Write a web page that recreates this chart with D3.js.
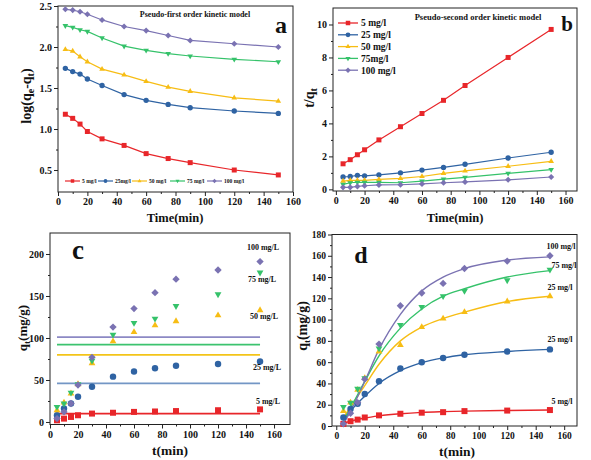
<!DOCTYPE html>
<html><head><meta charset="utf-8">
<script src="https://cdn.jsdelivr.net/npm/d3@7"></script>
<style>
body{margin:0;background:#fff}
svg{display:block}
text{font-family:"Liberation Serif","Times New Roman",serif;font-weight:bold;fill:#111}
</style>
</head><body>
<svg id="chart" width="591" height="460"></svg>
<script>
// ---------- DATA ----------
const times = [5, 10, 15, 20, 30, 45, 60, 75, 90, 120, 150];
const xTicks = [0, 20, 40, 60, 80, 100, 120, 140, 160];

// panel a: log(qe-qt)
const aLog5   = [1.18, 1.13, 1.06, 0.97, 0.88, 0.80, 0.70, 0.64, 0.59, 0.50, 0.44];
const aLog25  = [1.74, 1.70, 1.67, 1.61, 1.53, 1.42, 1.35, 1.30, 1.26, 1.22, 1.19];
const aLog50  = [1.97, 1.95, 1.88, 1.82, 1.73, 1.66, 1.58, 1.51, 1.46, 1.38, 1.34];
const aLog75  = [2.26, 2.24, 2.21, 2.19, 2.11, 2.01, 1.96, 1.92, 1.89, 1.85, 1.82];
const aLog100 = [2.46, 2.45, 2.43, 2.40, 2.33, 2.25, 2.20, 2.14, 2.08, 2.04, 2.00];
const aLabels = ["5 mg/l", "25mg/l", "50 mg/l", "75 mg/l", "100 mg/l"];
const aYTicks = [0.5, 1.0, 1.5, 2.0, 2.5];

// panel b: t/qt
const bT5   = [1.55, 1.80, 2.10, 2.40, 3.00, 3.80, 4.60, 5.40, 6.30, 8.00, 9.70];
const bT25  = [0.75, 0.78, 0.85, 0.82, 0.88, 1.00, 1.17, 1.33, 1.52, 1.90, 2.25];
const bT50  = [0.50, 0.55, 0.55, 0.55, 0.60, 0.66, 0.78, 0.97, 1.12, 1.40, 1.70];
const bT75  = [0.30, 0.40, 0.43, 0.42, 0.42, 0.40, 0.50, 0.62, 0.73, 0.97, 1.20];
const bT100 = [0.12, 0.12, 0.18, 0.22, 0.27, 0.28, 0.33, 0.40, 0.45, 0.58, 0.75];
const bLabels = ["5 mg/l", "25 mg/l", "50 mg/l", "75mg/l", "100 mg/l"];
const bYTicks = [0, 2, 4, 6, 8, 10];

// panel c: qt points + qe lines
const cQ5   = [2, 4, 6, 8, 10, 11, 12, 12.5, 13, 14, 15];
const cQ25  = [8, 16, 22, 30, 42, 54, 60, 64, 67, 69, 72];
const cQ50  = [14, 23, 34, 45, 70, 96, 107, 115, 120, 127, 133];
const cQ75  = [18, 22, 35, 45, 73, 104, 118, 123, 138, 152, 178];
const cQ100 = [4, 12, 22, 44, 77, 113, 135, 154, 170, 181, 191];
const cQe   = [10, 46, 80, 92, 101];
const cLabels = ["5 mg/L", "25 mg/L", "50 mg/L", "75 mg/L", "100 mg/L"];
const cYTicks = [0, 50, 100, 150, 200];

// panel d: qt points + fitted curves
const dQ5   = [2, 4.5, 6, 8, 10, 11.5, 12.5, 13, 14, 14.5, 15];
const dQ25  = [8, 16, 21, 30, 42, 54, 60, 64, 67, 70, 72];
const dQ50  = [14, 22, 34, 45, 70, 76, 93, 101, 107, 117, 122];
const dQ75  = [18, 22, 35, 45, 73, 95, 112, 122, 127, 137, 147];
const dQ100 = [2, 12, 22, 44, 77, 113, 125, 134, 148, 155, 160];
const fitTimes = [5, 10, 20, 30, 45, 60, 75, 90, 120, 150];
const dFit5   = [2.5, 4.5, 7.5, 9.5, 11.5, 12.8, 13.5, 14, 14.6, 15];
const dFit25  = [5, 14, 28, 40, 52, 59.5, 64, 67, 70, 72];
const dFit50  = [8, 18, 38, 58, 80, 93, 101, 107, 117, 122];
const dFit75  = [5, 17, 42, 66, 92, 110, 122, 129, 140, 146];
const dFit100 = [2, 14, 42, 72, 105, 127, 140, 148, 156, 159];
const dLabels = ["5 mg/l", "25 mg/l", "25 mg/l", "75 mg/l", "100 mg/l"];
const dYTicks = [0, 20, 40, 60, 80, 100, 120, 140, 160, 180];

// ---------- STYLE ----------
const colors = ["#e8262a", "#2f63a3", "#f7bd14", "#35c26a", "#7a72b2"];
const lineColorsC = ["#e8262a", "#7396c5", "#f3c418", "#3cc36f", "#8c89c4"];
const shapes = ["square", "circle", "tri", "trid", "diamond"];

const svg = d3.select("#chart");

function marker(g, shape, x, y, s, color) {
  const sym = {
    square: d3.symbolSquare, circle: d3.symbolCircle, tri: d3.symbolTriangle,
    trid: d3.symbolTriangle, diamond: d3.symbolSquare
  }[shape];
  let area = s * s;
  if (shape === "circle") area = Math.PI * (s / 2) * (s / 2) * 1.15;
  if (shape === "tri" || shape === "trid") area = s * s * 0.55;
  if (shape === "diamond") area = s * s * 0.75;
  const rot = shape === "trid" ? 180 : shape === "diamond" ? 45 : 0;
  g.append("path").attr("d", d3.symbol().type(sym).size(area)())
    .attr("transform", `translate(${x},${y}) rotate(${rot})`)
    .attr("fill", color);
}

function makePanel(cfg) {
  const g = svg.append("g");
  const x = d3.scaleLinear().domain(cfg.xDomain).range(cfg.xRange);
  const y = d3.scaleLinear().domain(cfg.yDomain).range(cfg.yRange);
  const [x0, x1] = cfg.xRange, [y0, y1] = cfg.yRange;
  g.append("rect").attr("x", x0).attr("y", y1).attr("width", x1 - x0).attr("height", y0 - y1)
    .attr("fill", "none").attr("stroke", "#222").attr("stroke-width", 1);
  const xMinor = [];
  for (let i = 0; i < xTicks.length - 1; i++) xMinor.push((xTicks[i] + xTicks[i + 1]) / 2);
  const yt = cfg.yTicks, yMinor = [];
  for (let i = 0; i < yt.length - 1; i++) yMinor.push((yt[i] + yt[i + 1]) / 2);
  const xa = g.append("g").attr("transform", `translate(0,${y0})`)
    .call(d3.axisBottom(x).tickValues(xTicks).tickSize(4).tickPadding(2).tickFormat(d3.format("d")));
  g.append("g").attr("transform", `translate(0,${y0})`)
    .call(d3.axisBottom(x).tickValues(xMinor).tickSize(2).tickFormat(""));
  const ya = g.append("g").attr("transform", `translate(${x0},0)`)
    .call(d3.axisLeft(y).tickValues(yt).tickSize(4).tickPadding(2).tickFormat(cfg.yFormat));
  g.append("g").attr("transform", `translate(${x0},0)`)
    .call(d3.axisLeft(y).tickValues(yMinor).tickSize(2).tickFormat(""));
  g.selectAll(".domain").remove();
  g.selectAll(".tick line").attr("stroke", "#222");
  [xa, ya].forEach(a => a.selectAll("text").attr("font-size", cfg.tickFont).attr("fill", "#111")
    .attr("font-family", "Liberation Serif").attr("font-weight", "bold"));
  return { g, x, y };
}

function lineSeries(p, xs, ys, color, shape, ms, lw, curve) {
  const data = xs.map((t, i) => [t, ys[i]]);
  if (lw > 0) {
    p.g.append("path").datum(data)
      .attr("d", d3.line().x(d => p.x(d[0])).y(d => p.y(d[1])).curve(curve || d3.curveLinear))
      .attr("fill", "none").attr("stroke", color).attr("stroke-width", lw);
  }
  if (shape) data.forEach(d => marker(p.g, shape, p.x(d[0]), p.y(d[1]), ms, color));
}

function txt(x, y, s, size, anchor, color) {
  return svg.append("text").attr("x", x).attr("y", y).attr("font-size", size)
    .attr("text-anchor", anchor || "start").attr("fill", color || "#111").text(s);
}

// ---------- PANEL A ----------
const pA = makePanel({ xDomain: [0, 160], xRange: [58, 293], yDomain: [0.232, 2.5], yRange: [192, 6],
  yTicks: aYTicks, yFormat: d3.format(".1f"), tickFont: 10 });
[aLog5, aLog25, aLog50, aLog75, aLog100].forEach((s, i) =>
  lineSeries(pA, times, s, colors[i], shapes[i], 5, 1.2));
const aLegX = [65, 98, 132, 170, 207];
aLabels.forEach((l, i) => {
  const xx = aLegX[i];
  svg.append("line").attr("x1", xx).attr("x2", xx + 15).attr("y1", 181).attr("y2", 181)
    .attr("stroke", colors[i]).attr("stroke-width", 1.2);
  marker(svg, shapes[i], xx + 7.5, 181, 3.5, colors[i]);
  txt(xx + 17, 183, l, 5.5);
});
txt(195, 17, "Pseudo-first order kinetic model", 8, "middle");
txt(281, 33, "a", 24, "middle");
txt(175, 222, "Time(min)", 12.5, "middle");
{
  const t = svg.append("text").attr("transform", "translate(31,96) rotate(-90)")
    .attr("text-anchor", "middle").attr("font-size", 14);
  t.append("tspan").text("log(q");
  t.append("tspan").attr("font-size", 10).attr("dy", 3).text("e");
  t.append("tspan").attr("dy", -3).text("-q");
  t.append("tspan").attr("font-size", 10).attr("dy", 3).text("t");
  t.append("tspan").attr("dy", -3).text(")");
}

// ---------- PANEL B ----------
const pB = makePanel({ xDomain: [-2, 168], xRange: [333, 577], yDomain: [-0.1, 11], yRange: [191, 8],
  yTicks: bYTicks, yFormat: d3.format("d"), tickFont: 10 });
[bT5, bT25, bT50, bT75, bT100].forEach((s, i) =>
  lineSeries(pB, times, s, colors[i], shapes[i], 5, 1.2));
bLabels.forEach((l, i) => {
  const yy = 23 + i * 11.8;
  svg.append("line").attr("x1", 338).attr("x2", 358).attr("y1", yy).attr("y2", yy)
    .attr("stroke", colors[i]).attr("stroke-width", 1.3);
  marker(svg, shapes[i], 348, yy, 4.5, colors[i]);
  txt(361, yy + 3.3, l, 9.5);
});
txt(478, 20, "Pseudo-second order kinetic model", 8.5, "middle");
txt(567, 31, "b", 21, "middle");
txt(455, 222, "Time(min)", 12.5, "middle");
{
  const t = svg.append("text").attr("transform", "translate(314,98) rotate(-90)")
    .attr("text-anchor", "middle").attr("font-size", 14);
  t.append("tspan").text("t/q");
  t.append("tspan").attr("font-size", 10).attr("dy", 3).text("t");
}

// ---------- PANEL C ----------
const pC = makePanel({ xDomain: [0, 171.4], xRange: [50, 290], yDomain: [-3, 225], yRange: [424.5, 233],
  yTicks: cYTicks, yFormat: d3.format("d"), tickFont: 10 });
cQe.forEach((q, i) => {
  pC.g.append("line").attr("x1", pC.x(5)).attr("x2", pC.x(150)).attr("y1", pC.y(q)).attr("y2", pC.y(q))
    .attr("stroke", lineColorsC[i]).attr("stroke-width", 1.8);
});
[cQ5, cQ25, cQ50, cQ75, cQ100].forEach((s, i) =>
  lineSeries(pC, times, s, colors[i], shapes[i], 6, 0));
const cLabY = [404, 370, 319, 282, 250];
const cLabX = [268, 267, 264, 262, 263];
cLabels.forEach((l, i) => txt(cLabX[i], cLabY[i], l, 8, "middle"));
txt(78, 259, "c", 27, "middle");
txt(170, 455, "t(min)", 13.5, "middle");
{
  const t = svg.append("text").attr("transform", "translate(27,328) rotate(-90)")
    .attr("text-anchor", "middle").attr("font-size", 13);
  t.append("tspan").text("q");
  t.append("tspan").attr("font-size", 9).attr("dy", 3).text("t");
  t.append("tspan").attr("dy", -3).text("(mg/g)");
}

// ---------- PANEL D ----------
const pD = makePanel({ xDomain: [-3, 169], xRange: [332, 577], yDomain: [0, 180], yRange: [426, 234.5],
  yTicks: dYTicks, yFormat: d3.format("d"), tickFont: 9.5 });
[dFit5, dFit25, dFit50, dFit75, dFit100].forEach((s, i) =>
  lineSeries(pD, fitTimes, s, colors[i], null, 0, 1.4, d3.curveMonotoneX));
[dQ5, dQ25, dQ50, dQ75, dQ100].forEach((s, i) =>
  lineSeries(pD, times, s, colors[i], shapes[i], 6, 0));
const dLabY = [404, 342, 290, 268, 249];
const dLabX = [562, 560, 560, 564, 561];
dLabels.forEach((l, i) => txt(dLabX[i], dLabY[i], l, 8, "middle"));
txt(361, 263, "d", 24, "middle");
txt(457, 456, "t(min)", 13.5, "middle");
{
  const t = svg.append("text").attr("transform", "translate(307,326) rotate(-90)")
    .attr("text-anchor", "middle").attr("font-size", 14);
  t.append("tspan").text("q");
  t.append("tspan").attr("font-size", 9).attr("dy", 3).text("t");
  t.append("tspan").attr("dy", -3).text("(mg/g)");
}
</script>
</body></html>
